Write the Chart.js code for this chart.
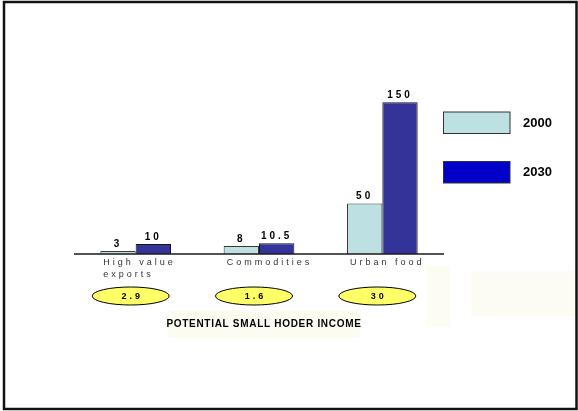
<!DOCTYPE html>
<html>
<head>
<meta charset="utf-8">
<script src="https://cdn.jsdelivr.net/npm/chart.js@4"></script>
<style>
    html, body { margin: 0; padding: 0; background: #fff; }
    canvas { display: block; }
</style>
</head>
<body>
<canvas id="chart" width="578" height="411"></canvas>
<script>
const CATEGORIES = [['High value', 'exports'], ['Commodities'], ['Urban food']];
const SERIES = ['2000', '2030'];
const VALUES_2000 = [3, 8, 50];
const VALUES_2030 = [10, 10.5, 150];
const INCOME = [2.9, 1.6, 30];
const INCOME_TITLE = 'POTENTIAL SMALL HODER INCOME';

const BAR_COLORS = ['#bde0e3', '#333399'];
const BAR_BORDERS = ['#3a3a3a', '#151515'];
const LEGEND_COLORS = ['#bde0e3', '#0000c8'];
const FONT = 'Arial, "Liberation Sans", sans-serif';

function spacedText(ctx, text, x, y, spacing) {
    ctx.letterSpacing = spacing + 'px';
    ctx.fillText(text, x, y);
    ctx.letterSpacing = '0px';
}

const decor = {
    id: 'decor',
    beforeDraw(chart) {
        let ctx = chart.ctx;
        ctx.save();
        // faint cream panels below the plot
        ctx.fillStyle = '#fcfcf2';
        ctx.fillRect(167, 310, 194, 28);
        ctx.fillRect(427, 266, 23, 61);
        ctx.fillRect(471, 271, 106, 45);
        ctx.restore();
    },
    afterDatasetsDraw(chart) {
        let ctx = chart.ctx;
        let area = chart.chartArea;
        let y = chart.scales.y;
        let base = y.getPixelForValue(0);

        ctx.save();

        // baseline
        ctx.strokeStyle = '#1a1a1a';
        ctx.lineWidth = 1.5;
        ctx.beginPath();
        ctx.moveTo(area.left, base);
        ctx.lineTo(area.right, base);
        ctx.stroke();

        // value labels above each bar
        ctx.fillStyle = '#000';
        ctx.font = 'bold 10px ' + FONT;
        ctx.textAlign = 'center';
        ctx.textBaseline = 'alphabetic';
        chart.data.datasets.forEach((ds, di) => {
            chart.getDatasetMeta(di).data.forEach((bar, i) => {
                spacedText(ctx, String(ds.data[i]), bar.x, bar.y - 4, 3);
            });
        });

        // category labels, left aligned under the first bar of each group
        let first = chart.getDatasetMeta(0).data;
        ctx.fillStyle = '#333';
        ctx.font = '9px ' + FONT;
        ctx.textAlign = 'left';
        ctx.textBaseline = 'middle';
        CATEGORIES.forEach((lines, i) => {
            let left = first[i].x - first[i].width / 2 + 3;
            lines.forEach((line, li) => {
                spacedText(ctx, line, left, base + 9 + li * 11.5, 3);
            });
        });

        // income ellipses
        let xs = chart.scales.x;
        INCOME.forEach((v, i) => {
            let cx = xs.getPixelForValue(i) - 5;
            let cy = 296;
            ctx.beginPath();
            ctx.ellipse(cx, cy, 38.5, 9, 0, 0, Math.PI * 2);
            ctx.fillStyle = '#ffff66';
            ctx.fill();
            ctx.strokeStyle = '#000';
            ctx.lineWidth = 1;
            ctx.stroke();
            ctx.fillStyle = '#000';
            ctx.font = 'bold 9px ' + FONT;
            ctx.textAlign = 'center';
            ctx.textBaseline = 'middle';
            spacedText(ctx, String(v), cx + 1.5, cy + 0.5, 3);
        });

        ctx.fillStyle = '#000';
        ctx.font = 'bold 10px ' + FONT;
        ctx.textAlign = 'center';
        ctx.textBaseline = 'middle';
        spacedText(ctx, INCOME_TITLE, 264, 324, 0.7);

        // legend
        SERIES.forEach((name, i) => {
            let top = 112 + i * 49.5;
            ctx.fillStyle = LEGEND_COLORS[i];
            ctx.fillRect(443.5, top, 66.5, 21.5);
            ctx.strokeStyle = '#333';
            ctx.lineWidth = 1;
            ctx.strokeRect(443.5, top, 66.5, 21.5);
            ctx.fillStyle = '#000';
            ctx.font = 'bold 13px ' + FONT;
            ctx.textAlign = 'left';
            ctx.textBaseline = 'middle';
            ctx.fillText(name, 523, top + 11);
        });

        // outer frame
        ctx.strokeStyle = '#111';
        ctx.lineWidth = 2.5;
        ctx.strokeRect(4, 2, 572.5, 407);

        ctx.restore();
    }
};

new Chart(document.getElementById('chart'), {
    type: 'bar',
    plugins: [decor],
    data: {
        labels: CATEGORIES.map(c => c.join(' ')),
        datasets: SERIES.map((name, i) => ({
            label: name,
            data: [VALUES_2000, VALUES_2030][i],
            backgroundColor: BAR_COLORS[i],
            borderColor: BAR_BORDERS[i],
            borderWidth: 1,
            categoryPercentage: 0.573,
            barPercentage: 1
        }))
    },
    options: {
        responsive: false,
        animation: false,
        devicePixelRatio: 1,
        layout: {
            padding: { left: 74, right: 134, top: 92, bottom: 157 }
        },
        scales: {
            x: { display: false },
            y: { display: false, min: 0, max: 160 }
        },
        plugins: {
            legend: { display: false },
            tooltip: { enabled: false }
        }
    }
});
</script>
</body>
</html>
